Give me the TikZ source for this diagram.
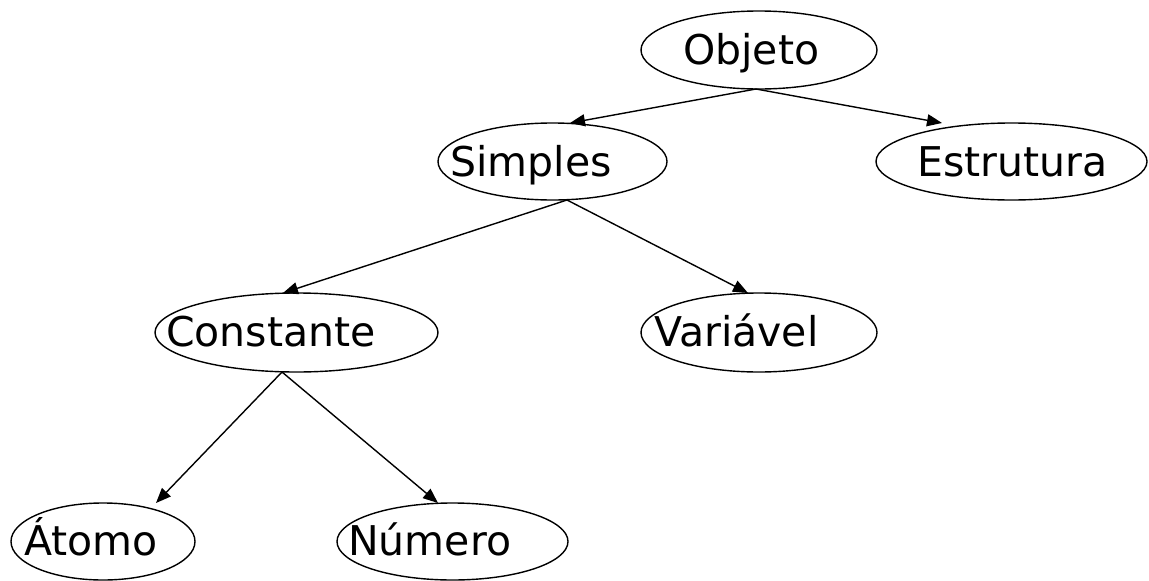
\documentclass[tikz,border=0pt]{standalone}
\usepackage{fontspec}
\setmainfont{DejaVu Sans}
\usetikzlibrary{shapes.geometric,arrows.meta,calc}
\begin{document}
\begin{tikzpicture}[x=1pt,y=-1pt,
  ell/.style={draw,ellipse,line width=1.4pt,inner sep=0pt,outer sep=0pt},
  lbl/.style={anchor=base west,inner sep=0pt,font=\fontsize{41}{49}\selectfont},
  arr/.style={line width=1.4pt,-{Triangle[length=15pt,width=12pt]}}]
\useasboundingbox (0,0) rectangle (1149,581);
% ellipses
\node[ell,minimum width=236pt,minimum height=78pt] (objeto) at (759,50) {};
\node[ell,minimum width=229pt,minimum height=77pt] (simples) at (552.5,161.5) {};
\node[ell,minimum width=271pt,minimum height=77pt] (estrutura) at (1011.5,161.5) {};
\node[ell,minimum width=283pt,minimum height=79pt] (constante) at (296.5,332.5) {};
\node[ell,minimum width=236pt,minimum height=79pt] (variavel) at (759,332.5) {};
\node[ell,minimum width=184pt,minimum height=77pt] (atomo) at (103,541.5) {};
\node[ell,minimum width=231pt,minimum height=77pt] (numero) at (452.5,541.5) {};
% labels
\node[lbl] (tobjeto) at (683,64) {Objeto};
\node[lbl] (tsimples) at (450,176) {Simples};
\node[lbl] (testrutura) at (917,176) {Estrutura};
\node[lbl] (tconstante) at (166,346) {Constante};
\node[lbl] (tvariavel) at (654,346) {Variável};
\node[lbl] (tatomo) at (24,555) {Átomo};
\node[lbl] (tnumero) at (348,555) {Número};
% connectors
\draw[arr] ($(objeto.south)+(-3,0)$) -- ($(simples.north)+(17.5,0)$);
\draw[arr] ($(objeto.south)+(-3,0)$) -- ($(estrutura.north)+(-69.5,0)$);
\draw[arr] ($(simples.south)+(14.5,0)$) -- ($(constante.north)+(-13.5,0)$);
\draw[arr] ($(simples.south)+(14.5,0)$) -- ($(variavel.north)+(-11,0)$);
\draw[arr] ($(constante.south)+(-14.5,0)$) -- ($(atomo.north)+(53,0)$);
\draw[arr] ($(constante.south)+(-14.5,0)$) -- ($(numero.north)+(-14.5,0)$);
\end{tikzpicture}
\end{document}
